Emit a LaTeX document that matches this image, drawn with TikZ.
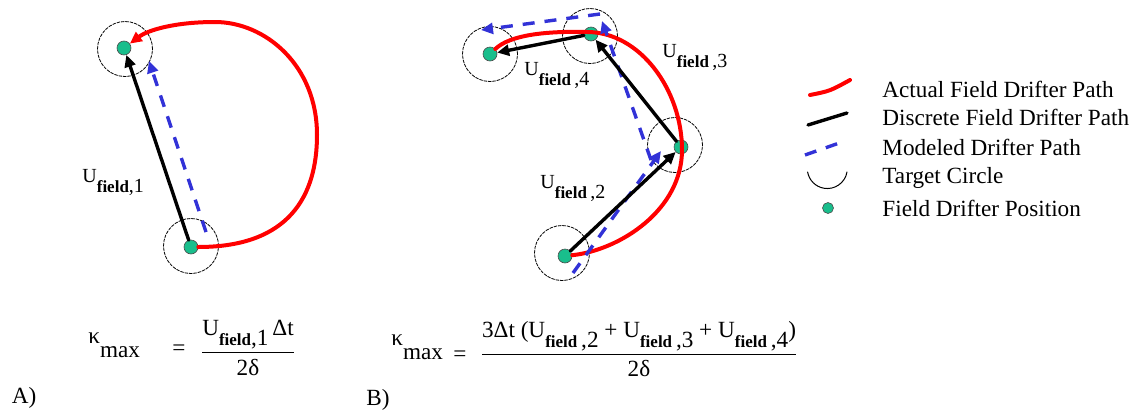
\documentclass[tikz,border=0pt]{standalone}
\usepackage{amsmath}
\usepackage{fontspec}
\setmainfont{Liberation Serif}
\usetikzlibrary{arrows.meta}
\definecolor{drgreen}{RGB}{25,190,140}
\definecolor{modblue}{RGB}{50,50,215}

\newcommand{\Ufield}[2][]{U\raisebox{-5pt}{{\fontsize{8.5}{10}\selectfont\bfseries field}#1,#2}}

\begin{document}
\begin{tikzpicture}[x=0.5pt,y=-0.5pt,>={Triangle[length=6pt,width=5.5pt]},
  font=\fontsize{10}{12}\selectfont,line cap=round,
  drifter/.style={circle,draw=black!70,line width=0.3pt,fill=drgreen,inner sep=0pt,minimum size=7pt},
  target/.style={circle,draw,line width=0.4pt,dash pattern=on 1.5pt off 0.7pt,inner sep=0pt,minimum size=27.5pt},
  actual/.style={red,line width=2pt},
  discrete/.style={black,line width=1.7pt},
  modeled/.style={modblue,line width=1.7pt,dash pattern=on 6pt off 5pt,line cap=butt},
  legend/.style={anchor=west,font=\fontsize{11.6}{14}\selectfont,inner sep=0pt},
  lbl/.style={anchor=base west,inner sep=0pt},
  formula/.style={inner sep=0pt,font=\fontsize{11.6}{14}\selectfont}]
\useasboundingbox (0,0) rectangle (1136,413);
\node[target] (tA1) at (191,246) {};
\node[target] (tA2) at (125,49) {};
\node[target] (tB1) at (562,253) {};
\node[target] (tB2) at (675,145) {};
\node[target] (tB3) at (590,36) {};
\node[target] (tB4) at (490,54) {};
\node[drifter] (a1) at (191,247) {};
\node[drifter] (a2) at (124,48) {};
\node[drifter] (b1) at (565,256) {};
\node[drifter] (b2) at (681,147) {};
\node[drifter] (b3) at (591,34) {};
\node[drifter] (b4) at (490,54) {};
\draw[actual,->] (a1) .. controls (290,247) and (317,195) .. (317,135)
  .. controls (317,65) and (265,22) .. (215,22) .. controls (175,22) and (148,30) .. (a2);
\draw[actual] (b1) .. controls (620,250) and (682,210) .. (682,150)
  .. controls (682,90) and (640,32) .. (587,32) .. controls (545,31) and (510,35) .. (b4);
\coordinate (mA0) at (206,232);
\coordinate (mA1) at (149,61);
\coordinate (mB0) at (573,273);
\coordinate (mB1) at (661,151);
\coordinate (mB2) at (651,160);
\coordinate (mB3) at (602,21);
\coordinate (mB4) at (600,14);
\coordinate (mB5) at (481,30);
\draw[modeled,->] (mA0) -- (mA1);
\draw[modeled,->] (mB0) -- (mB1);
\draw[modeled,->] (mB2) -- (mB3);
\draw[modeled,->] (mB4) -- (mB5);
\draw[discrete,->] (a1) -- (a2);
\draw[discrete,->] (b1) -- (b2);
\draw[discrete,->] (b2) -- (b3);
\draw[discrete,->] (b3) -- (b4);
\node[lbl] (uA1) at (82,182) {\Ufield{1}};
\node[lbl] (uB2) at (540,188) {\Ufield[\,]{2}};
\node[lbl] (uB3) at (662,57) {\Ufield[\,]{3}};
\node[lbl] (uB4) at (524,75) {\Ufield[\,]{4}};
\draw[actual] (810,95) .. controls (830,91) .. (850,80);
\draw[discrete] (808,125) -- (847,113);
\draw[modeled] (805,155) -- (845,141);
\draw[black,line width=0.5pt] (847,172) arc (10:170:20);
\node[drifter,minimum size=5.5pt] (lgdot) at (828,208) {};
\node[legend] (lgA) at (882,89) {Actual Field Drifter Path};
\node[legend] (lgD) at (882,117) {Discrete Field Drifter Path};
\node[legend] (lgM) at (882,147) {Modeled Drifter Path};
\node[legend] (lgT) at (882,178) {Target Circle};
\node[legend] (lgP) at (882,208) {Field Drifter Position};
\node[formula,anchor=west] (kapA) at (88,345) {κ\raisebox{-1.3ex}{max}};
\node[formula] (eqA) at (179,350) {=};
\node[formula] (fracA) at (248,348) {$\dfrac{\mbox{\Ufield{1}\,Δt}}{\mbox{2δ}}$};
\node[formula,anchor=west] (kapB) at (391,347) {κ\raisebox{-1.3ex}{max}};
\node[formula] (eqB) at (460,356) {=};
\node[formula] (fracB) at (639,349) {$\dfrac{\mbox{3Δt (\Ufield[\,]{2} + \Ufield[\,]{3} + \Ufield[\,]{4})}}{\mbox{2δ}}$};
\node[formula] (labA) at (24,398) {A)};
\node[formula] (labB) at (378,400) {B)};
\end{tikzpicture}
\end{document}
